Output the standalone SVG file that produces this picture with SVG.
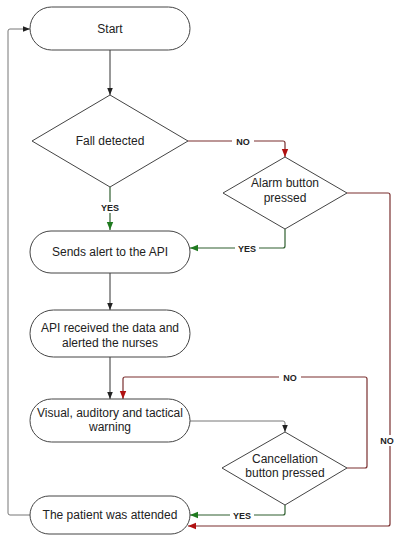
<svg xmlns="http://www.w3.org/2000/svg" width="395" height="535" viewBox="0 0 395 535">
<defs>
<style>
.n{fill:#fff;stroke:#444;stroke-width:1}
.t{font-family:"Liberation Sans",Arial,sans-serif;font-size:12px;fill:#222;text-anchor:middle}
.l{font-family:"Liberation Sans",Arial,sans-serif;font-size:9px;font-weight:bold;fill:#222;text-anchor:middle}
.k{fill:none;stroke:#333;stroke-width:1}
.g{fill:none;stroke:#777;stroke-width:1}
.r{fill:none;stroke:#7a2f2f;stroke-width:1.2}
.gr{fill:none;stroke:#2f5f2f;stroke-width:1.2}
.bg{fill:#fff}
</style>
<marker id="ak" viewBox="0 0 10 10" refX="10" refY="5" markerWidth="7" markerHeight="7" orient="auto"><path d="M0,1 L10,5 L0,9 z" fill="#222"/></marker>
<marker id="ar" viewBox="0 0 10 10" refX="10" refY="5" markerWidth="7" markerHeight="7" orient="auto"><path d="M0,1 L10,5 L0,9 z" fill="#b01010"/></marker>
<marker id="ag" viewBox="0 0 10 10" refX="10" refY="5" markerWidth="7" markerHeight="7" orient="auto"><path d="M0,1 L10,5 L0,9 z" fill="#1f7a1f"/></marker>
</defs>
<rect width="395" height="535" fill="#fff"/>
<g id="connectors">
<path class="k" d="M110,50 V95" marker-end="url(#ak)"/>
<path class="gr" d="M110,187 V230" marker-end="url(#ag)"/>
<path class="r" d="M188,141 H283 Q285,141 285,143 V157" marker-end="url(#ar)"/>
<path class="gr" d="M285,229 V246 Q285,248 283,248 H190" marker-end="url(#ag)"/>
<path class="k" d="M110,273 V310" marker-end="url(#ak)"/>
<path class="k" d="M110,357 V399" marker-end="url(#ak)"/>
<path class="g" d="M190,421 H283 Q285,421 285,423 V432" marker-end="url(#ak)"/>
<path class="r" d="M347,468 H365 Q367,468 367,466 V379 Q367,377 365,377 H125 Q123,377 123,379 V399" marker-end="url(#ar)"/>
<path class="gr" d="M285,505 V513 Q285,515 283,515 H190" marker-end="url(#ag)"/>
<path class="r" d="M347,193 H388 Q390,193 390,195 V524 Q390,526 388,526 H188" marker-end="url(#ar)"/>
<path class="g" d="M30,515 H10 Q8,515 8,513 V31 Q8,29 10,29 H30" marker-end="url(#ak)"/>
<rect class="bg" x="98" y="202" width="24" height="11"/>
<text class="l" x="110" y="211">YES</text>
<rect class="bg" x="232" y="136" width="22" height="11"/>
<text class="l" x="243" y="144.5">NO</text>
<rect class="bg" x="235" y="243" width="24" height="11"/>
<text class="l" x="247" y="251.5">YES</text>
<rect class="bg" x="279" y="372" width="22" height="11"/>
<text class="l" x="290" y="380.5">NO</text>
<rect class="bg" x="230" y="510" width="24" height="11"/>
<text class="l" x="242" y="518.5">YES</text>
<rect class="bg" x="379" y="435" width="16" height="11"/>
<text class="l" x="387" y="443.5">NO</text>
</g>
<g id="start"><rect class="n" x="30" y="7" width="160" height="43" rx="21.5"/><text class="t" x="110" y="32.5">Start</text></g>
<g id="fall"><polygon class="n" points="110,95 188,141 110,187 32,141"/><text class="t" x="110" y="145">Fall detected</text></g>
<g id="alarm"><polygon class="n" points="285,157 347,193 285,229 223,193"/><text class="t" x="285" y="187">Alarm button</text><text class="t" x="285" y="202">pressed</text></g>
<g id="sends"><rect class="n" x="30" y="231" width="160" height="42" rx="21"/><text class="t" x="110" y="256">Sends alert to the API</text></g>
<g id="api"><rect class="n" x="30" y="310" width="160" height="47" rx="23.5"/><text class="t" x="110" y="332">API received the data and</text><text class="t" x="110" y="347">alerted the nurses</text></g>
<g id="visual"><rect class="n" x="30" y="399" width="160" height="43" rx="21.5"/><text class="t" x="110" y="417">Visual, auditory and tactical</text><text class="t" x="110" y="431">warning</text></g>
<g id="cancel"><polygon class="n" points="285,432 347,468 285,505 222,468"/><text class="t" x="285" y="463">Cancellation</text><text class="t" x="285" y="477">button pressed</text></g>
<g id="patient"><rect class="n" x="30" y="496" width="160" height="38" rx="19"/><text class="t" x="110" y="519">The patient was attended</text></g>
</svg>
